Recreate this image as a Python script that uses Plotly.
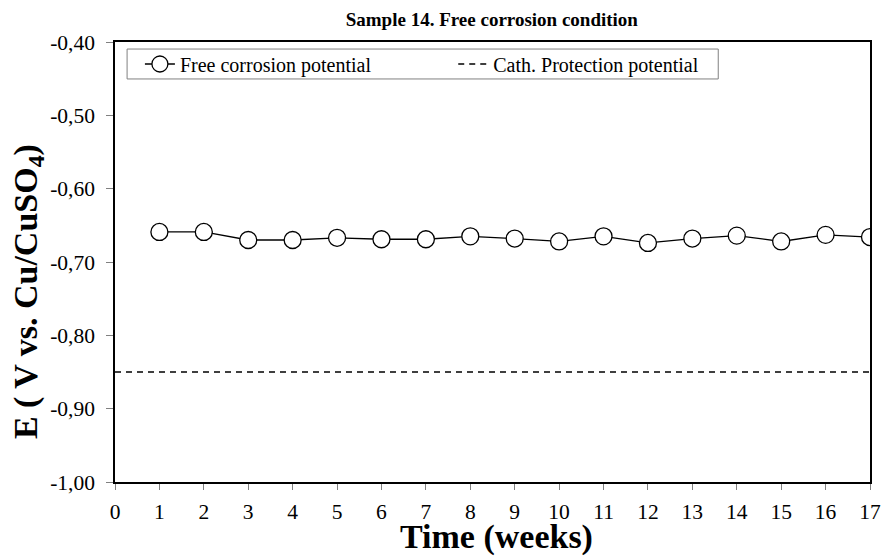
import plotly.graph_objects as go

weeks = list(range(1, 18))
free_potential = [-0.659, -0.659, -0.670, -0.670, -0.667, -0.669, -0.669, -0.665, -0.668,
                  -0.672, -0.665, -0.674, -0.668, -0.664, -0.672, -0.663, -0.666]
cp_x = [0, 17]
cp_potential = [-0.85, -0.85]

y_ticks = [-1.0, -0.9, -0.8, -0.7, -0.6, -0.5, -0.4]
y_ticktext = ["-1,00", "-0,90", "-0,80", "-0,70", "-0,60", "-0,50", "-0,40"]
x_ticks = list(range(0, 18))

FONT = "Liberation Serif"

fig = go.Figure()
fig.add_trace(go.Scatter(
    x=weeks, y=free_potential, mode="lines+markers", name="Free corrosion potential",
    line=dict(color="black", width=1.3),
    marker=dict(symbol="circle", size=17, color="white", line=dict(color="black", width=1.3)),
    legend="legend",
))
fig.add_trace(go.Scatter(
    x=cp_x, y=cp_potential, mode="lines", name="Cath. Protection potential",
    line=dict(color="black", width=1.5, dash="6px,5px"),
    legend="legend2",
))

leg_common = dict(orientation="h", xanchor="left", yanchor="middle",
                  borderwidth=0, bgcolor="rgba(0,0,0,0)",
                  font=dict(size=20, family=FONT), itemwidth=30)

fig.update_layout(
    width=883, height=558,
    margin=dict(l=115, r=13, t=42, b=76, autoexpand=False),
    paper_bgcolor="white", plot_bgcolor="white",
    font=dict(family=FONT, color="black", size=21),
    title=dict(text="<b>Sample 14. Free corrosion condition</b>", x=0.557, xref="container",
               y=0.965, yref="container", xanchor="center", yanchor="middle",
               font=dict(size=19, family=FONT)),
    showlegend=True,
    legend=dict(x=0.033, y=0.95, **leg_common),
    legend2=dict(x=0.448, y=0.95, **leg_common),
    shapes=[dict(type="rect", xref="paper", yref="paper",
                 x0=0.016, x1=0.799, y0=0.916, y1=0.984,
                 line=dict(color="#808080", width=1), fillcolor="rgba(0,0,0,0)", layer="below")],
    xaxis=dict(range=[0, 17], tickvals=x_ticks, ticks="outside", ticklen=6, tickcolor="#808080",
               ticklabelstandoff=3, automargin=False,
               showline=True, linecolor="black", linewidth=1.5, mirror=True,
               showgrid=False, zeroline=False, tickfont=dict(size=21.5, family=FONT)),
    yaxis=dict(range=[-1.0, -0.4], tickvals=y_ticks, ticktext=y_ticktext, ticks="outside",
               ticklen=7, tickcolor="#808080", ticklabelstandoff=7, automargin=False,
               showline=True, linecolor="black", linewidth=1.5, mirror=True,
               showgrid=False, zeroline=False, tickfont=dict(size=21.5, family=FONT)),
    annotations=[
        dict(text="<b>E ( V vs. Cu/CuSO<sub>4</sub>)</b>", textangle=-90,
             xref="paper", yref="paper", x=-0.115, y=0.432,
             xanchor="center", yanchor="middle", showarrow=False,
             font=dict(size=34, family=FONT)),
        dict(text="<b>Time (weeks)</b>", xref="paper", yref="paper", x=0.505, y=-0.171,
             xanchor="center", yanchor="bottom", showarrow=False, borderpad=0,
             font=dict(size=34, family=FONT)),
    ],
)

fig.write_html("out.html")
